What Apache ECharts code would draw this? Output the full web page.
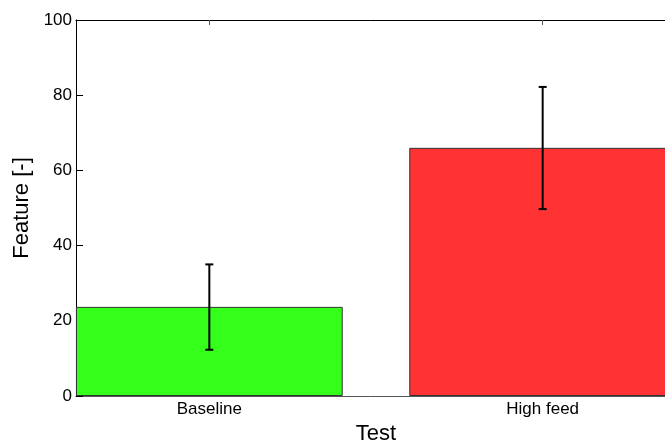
<!DOCTYPE html>
<html>
<head>
<meta charset="utf-8">
<script src="https://cdn.jsdelivr.net/npm/echarts@6/dist/echarts.min.js"></script>
<style>
  html, body { margin: 0; padding: 0; background: #fff; }
  #chart { width: 665px; height: 446px; }
</style>
</head>
<body>
<div id="chart"></div>
<script>
// data
const categories = ['Baseline', 'High feed'];
const positions = [1, 2];
const means = [23.7, 66];
const errLow = [12.3, 49.7];
const errHigh = [35, 82.2];
const barColors = ['#33ff1a', '#ff3333'];

const font = 'Liberation Sans, Arial, Helvetica, sans-serif';

const chart = echarts.init(document.getElementById('chart'));

const barData = positions.map((p, i) => ({
  value: [p, means[i]],
  itemStyle: { color: barColors[i] }
}));
const errData = positions.map((p, i) => [p, errLow[i], errHigh[i]]);

const option = {
  animation: false,
  backgroundColor: '#fff',
  // axis box goes past the right edge of the window, like the source figure
  grid: { left: 76, top: 20, width: 600, height: 376, outerBoundsMode: 'none', containLabel: false },
  xAxis: [
    {
      type: 'value', min: 0.6, max: 2.4, position: 'bottom',
      name: 'Test', nameLocation: 'middle', nameGap: 24,
      nameTextStyle: { color: '#000', fontSize: 22, fontFamily: font },
      axisLine: { show: true, lineStyle: { color: '#555', width: 1 } },
      axisTick: { show: true, inside: true, length: 5, customValues: positions, lineStyle: { color: '#555' } },
      axisLabel: {
        customValues: positions, color: '#000', fontSize: 17, fontFamily: font, margin: 5,
        formatter: v => categories[positions.indexOf(Math.round(v))] || ''
      },
      splitLine: { show: false }
    },
    {
      type: 'value', min: 0.6, max: 2.4, position: 'top',
      axisLine: { show: true, lineStyle: { color: '#000', width: 1 } },
      axisTick: { show: true, inside: true, length: 5, customValues: positions, lineStyle: { color: '#555' } },
      axisLabel: { show: false },
      splitLine: { show: false }
    }
  ],
  yAxis: {
    type: 'value', min: 0, max: 100, interval: 20,
    name: 'Feature [-]', nameLocation: 'middle', nameGap: 38, nameRotate: 90,
    nameTextStyle: { color: '#000', fontSize: 22, fontFamily: font },
    axisLine: { show: true, lineStyle: { color: '#000', width: 1 } },
    axisTick: { show: true, inside: true, length: 7, lineStyle: { color: '#000' } },
    axisLabel: { color: '#000', fontSize: 17, fontFamily: font, margin: 4 },
    splitLine: { show: false }
  },
  series: [
    {
      type: 'bar',
      xAxisIndex: 0,
      barWidth: 266.8,
      data: barData,
      itemStyle: { borderColor: '#333', borderWidth: 1 }
    },
    {
      type: 'custom',
      xAxisIndex: 0,
      z: 10,
      data: errData,
      renderItem: (params, api) => {
        const x = api.value(0);
        const lo = api.coord([x, api.value(1)]);
        const hi = api.coord([x, api.value(2)]);
        const cap = 4;
        const style = { stroke: '#000', lineWidth: 2 };
        return {
          type: 'group',
          children: [
            { type: 'line', shape: { x1: lo[0], y1: lo[1], x2: hi[0], y2: hi[1] }, style },
            { type: 'line', shape: { x1: hi[0] - cap, y1: hi[1], x2: hi[0] + cap, y2: hi[1] }, style },
            { type: 'line', shape: { x1: lo[0] - cap, y1: lo[1], x2: lo[0] + cap, y2: lo[1] }, style }
          ]
        };
      }
    }
  ]
};

chart.setOption(option);
</script>
</body>
</html>
